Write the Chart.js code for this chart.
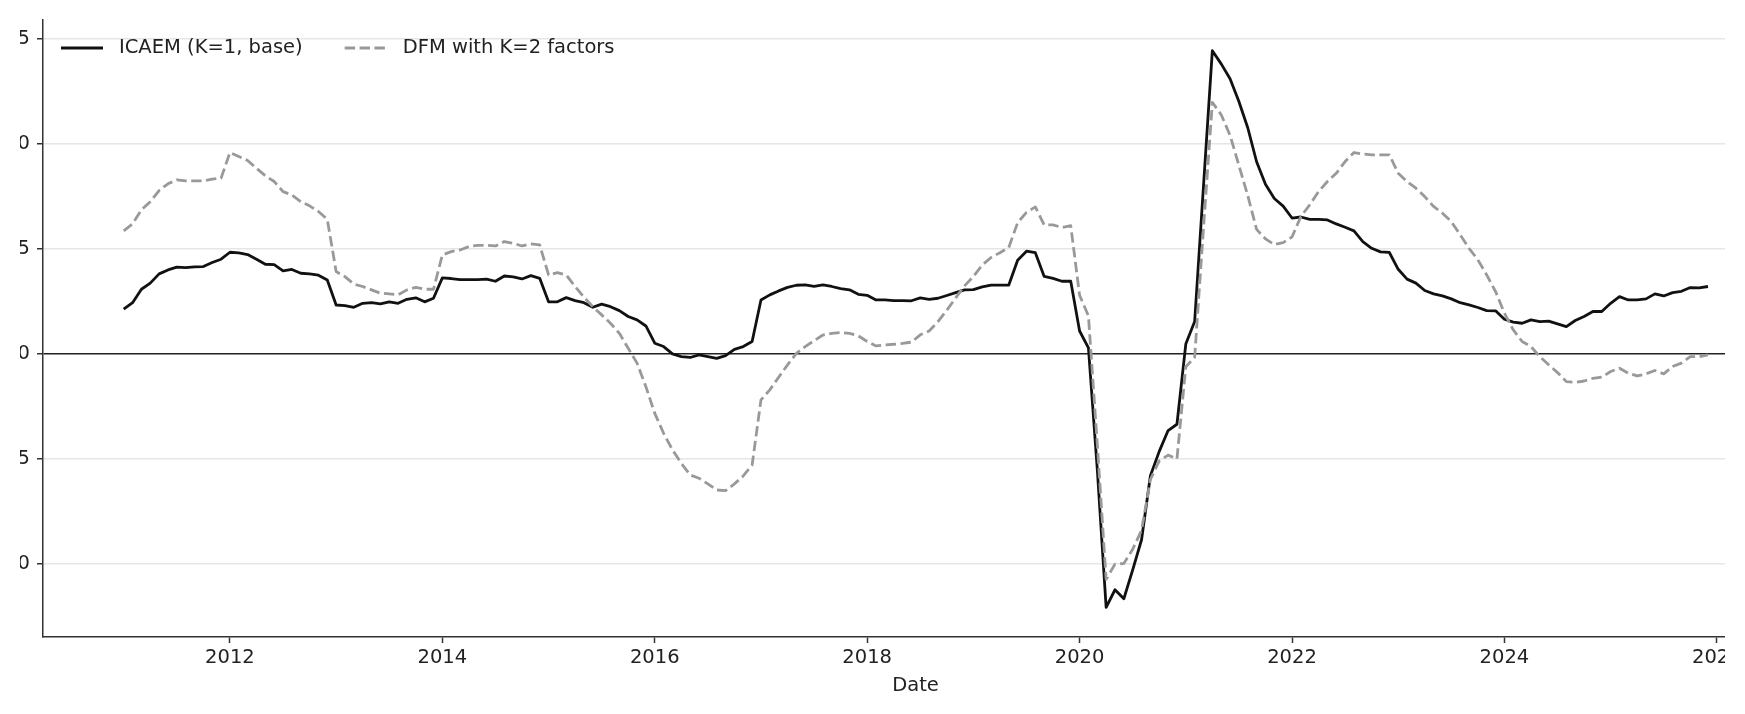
<!DOCTYPE html>
<html lang="en">
<head>
  <meta charset="UTF-8" />
  <title>ICAEM vs DFM</title>
  <script src="https://cdn.jsdelivr.net/npm/chart.js"></script>
  <style>
    html, body {
      margin: 0;
      padding: 0;
      background: #fff;
    }
    body {
      width: 1745px;
      height: 714px;
      overflow: hidden;
      position: relative;
    }
    /* the reference is a cropped figure: labels are cut on the left and right */
    #clip {
      position: absolute;
      left: 20px;
      top: 0;
      width: 1705px;
      height: 714px;
      overflow: hidden;
    }
    #holder {
      position: absolute;
      left: -20px;
      top: 0;
      width: 1810px;
      height: 714px;
    }
  </style>
</head>
<body>
  <div id="clip">
    <div id="holder">
      <canvas id="chart" width="1810" height="714"></canvas>
    </div>
  </div>

  <script>
    // monthly series, Jan 2011 .. Dec 2025
    const startYear = 2011;
    const seriesLabels = ['ICAEM (K=1, base)', 'DFM with K=2 factors'];

    const icaem = [
      2.13, 2.44, 3.08, 3.37, 3.81, 4.00, 4.13, 4.11, 4.14, 4.16, 4.35, 4.51,
      4.84, 4.81, 4.73, 4.51, 4.27, 4.25, 3.95, 4.02, 3.84, 3.81, 3.75, 3.52,
      2.33, 2.30, 2.22, 2.41, 2.44, 2.38, 2.48, 2.41, 2.60, 2.67, 2.48, 2.65,
      3.62, 3.59, 3.54, 3.54, 3.54, 3.56, 3.46, 3.71, 3.67, 3.57, 3.73, 3.60,
      2.48, 2.48, 2.68, 2.54, 2.44, 2.22, 2.37, 2.25, 2.06, 1.78, 1.62, 1.33,
      0.51, 0.35, 0.00, -0.13, -0.17, -0.05, -0.13, -0.21, -0.08, 0.22, 0.35, 0.59,
      2.57, 2.81, 3.00, 3.17, 3.27, 3.29, 3.22, 3.29, 3.21, 3.11, 3.05, 2.84,
      2.79, 2.57, 2.57, 2.54, 2.54, 2.53, 2.67, 2.60, 2.65, 2.78, 2.92, 3.05,
      3.06, 3.19, 3.28, 3.28, 3.28, 4.46, 4.89, 4.82, 3.69, 3.60, 3.46, 3.46,
      1.09, 0.29, -5.50, -12.07, -11.23, -11.66, -10.28, -8.85, -5.80, -4.64, -3.65, -3.35,
      0.47, 1.54, 8.00, 14.44, 13.81, 13.10, 12.02, 10.77, 9.15, 8.08, 7.40, 7.04,
      6.47, 6.52, 6.41, 6.41, 6.38, 6.19, 6.03, 5.86, 5.35, 5.03, 4.86, 4.83,
      4.03, 3.56, 3.37, 3.02, 2.86, 2.76, 2.62, 2.44, 2.33, 2.21, 2.06, 2.05,
      1.65, 1.51, 1.46, 1.62, 1.54, 1.56, 1.43, 1.30, 1.59, 1.78, 2.02, 2.02,
      2.41, 2.73, 2.57, 2.57, 2.62, 2.86, 2.76, 2.92, 2.98, 3.16, 3.14, 3.21
    ];

    const dfm = [
      5.86, 6.19, 6.86, 7.25, 7.78, 8.10, 8.29, 8.24, 8.24, 8.24, 8.32, 8.37,
      9.59, 9.40, 9.21, 8.84, 8.48, 8.21, 7.73, 7.57, 7.25, 7.05, 6.78, 6.41,
      3.92, 3.68, 3.32, 3.21, 3.05, 2.89, 2.86, 2.81, 3.05, 3.17, 3.08, 3.08,
      4.71, 4.87, 4.95, 5.11, 5.17, 5.17, 5.14, 5.35, 5.27, 5.14, 5.24, 5.19,
      3.76, 3.87, 3.76, 3.21, 2.70, 2.25, 1.86, 1.46, 0.98, 0.27, -0.44, -1.56,
      -2.83, -3.78, -4.57, -5.21, -5.76, -5.92, -6.19, -6.48, -6.51, -6.19, -5.81, -5.29,
      -2.19, -1.71, -1.11, -0.52, 0.03, 0.35, 0.63, 0.90, 0.98, 1.02, 0.98, 0.86,
      0.59, 0.38, 0.43, 0.46, 0.50, 0.56, 0.91, 1.09, 1.54, 2.08, 2.67, 3.24,
      3.69, 4.23, 4.59, 4.82, 5.07, 6.25, 6.74, 7.00, 6.14, 6.14, 6.02, 6.11,
      2.79, 1.81, -4.30, -10.73, -10.01, -9.98, -9.30, -8.40, -5.98, -5.09, -4.82, -5.00,
      -0.61, -0.16, 6.00, 11.98, 11.39, 10.41, 8.98, 7.54, 5.93, 5.48, 5.21, 5.30,
      5.57, 6.54, 7.10, 7.73, 8.21, 8.60, 9.16, 9.59, 9.52, 9.48, 9.48, 9.48,
      8.60, 8.21, 7.89, 7.49, 7.02, 6.70, 6.30, 5.67, 5.03, 4.48, 3.76, 2.97,
      1.94, 1.14, 0.59, 0.35, -0.13, -0.52, -0.89, -1.32, -1.35, -1.29, -1.16, -1.11,
      -0.84, -0.68, -0.92, -1.05, -0.95, -0.79, -0.95, -0.60, -0.44, -0.13, -0.13, -0.05
    ];

    const xTicks = [2012, 2014, 2016, 2018, 2020, 2022, 2024, 2026];
    const yTicks = [-10, -5, 0, 5, 10, 15];

    // decimal year for each month
    const dates = icaem.map((_, i) => startYear + i / 12);
    const toPoints = arr => arr.map((v, i) => ({ x: dates[i], y: v }));

    const FONT = { family: 'DejaVu Sans', size: 19.5 };
    const TEXT = '#222';

    Chart.defaults.font.family = FONT.family;
    Chart.defaults.color = TEXT;

    // legend drawn inside the plot, top-left, like the figure
    const insideLegend = {
      id: 'insideLegend',
      afterDraw(chart) {
        const { ctx, chartArea } = chart;
        let x = chartArea.left + 18;
        const y = chartArea.top + 28;
        ctx.save();
        ctx.font = FONT.size + 'px "' + FONT.family + '"';
        ctx.textBaseline = 'middle';
        ctx.fillStyle = TEXT;
        chart.data.datasets.forEach(ds => {
          ctx.strokeStyle = ds.borderColor;
          ctx.lineWidth = ds.borderWidth;
          ctx.setLineDash(ds.borderDash || []);
          ctx.beginPath();
          ctx.moveTo(x, y);
          ctx.lineTo(x + 42, y);
          ctx.stroke();
          ctx.setLineDash([]);
          ctx.fillText(ds.label, x + 58, y);
          x += 58 + ctx.measureText(ds.label).width + 42;
        });
        ctx.restore();
      }
    };

    new Chart(document.getElementById('chart'), {
      type: 'line',
      data: {
        datasets: [
          {
            label: seriesLabels[0],
            data: toPoints(icaem),
            borderColor: '#111111',
            borderWidth: 2.8,
            pointRadius: 0,
            tension: 0,
            borderJoinStyle: 'round',
            order: 1
          },
          {
            label: seriesLabels[1],
            data: toPoints(dfm),
            borderColor: '#999999',
            borderWidth: 2.8,
            borderDash: [10.4, 4.5],
            pointRadius: 0,
            tension: 0,
            borderJoinStyle: 'round',
            order: 0
          }
        ]
      },
      options: {
        responsive: false,
        animation: false,
        events: [],
        layout: {
          autoPadding: false,
          padding: { left: 0, right: 22, top: 20, bottom: 0 }
        },
        plugins: {
          legend: { display: false },
          tooltip: { enabled: false }
        },
        scales: {
          x: {
            type: 'linear',
            min: 2010.24,
            max: 2026.67,
            afterBuildTicks: s => { s.ticks = xTicks.map(v => ({ value: v })); },
            afterFit: s => { s.height = 77; },
            ticks: {
              font: FONT,
              color: TEXT,
              padding: 3,
              maxRotation: 0,
              autoSkip: false,
              callback: v => String(v)
            },
            grid: {
              drawOnChartArea: false,
              tickLength: 6,
              tickColor: '#333',
              tickWidth: 1.5
            },
            border: { color: '#333', width: 1.5 },
            title: {
              display: true,
              text: 'Date',
              font: FONT,
              color: TEXT,
              padding: { top: 4, bottom: 16 }
            }
          },
          y: {
            min: -13.48,
            max: 15.9,
            afterBuildTicks: s => { s.ticks = yTicks.map(v => ({ value: v })); },
            afterFit: s => { s.width = 43; },
            ticks: {
              font: FONT,
              color: TEXT,
              padding: 7,
              callback: v => String(v)
            },
            grid: {
              color: c => (c.tick && c.tick.value === 0) ? '#222' : '#e6e6e6',
              lineWidth: 1.5,
              tickLength: 6,
              tickColor: '#333',
              tickWidth: 1.5
            },
            border: { color: '#333', width: 1.5 }
          }
        }
      },
      plugins: [insideLegend]
    });
  </script>
</body>
</html>
